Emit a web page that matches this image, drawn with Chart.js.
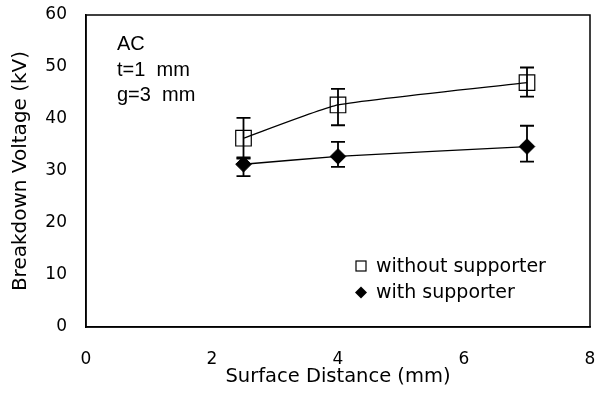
<!DOCTYPE html>
<html><head><meta charset="utf-8">
<script src="https://cdn.jsdelivr.net/npm/chart.js@4/dist/chart.umd.min.js"></script>
<style>html,body{margin:0;padding:0;background:#fff}#wrap{width:603px;height:398px}</style>
</head><body><div id="wrap"><canvas id="c" width="603" height="398"></canvas></div>
<script>
const distances = [2.5, 4, 7];
const withoutSupporter = [36.3, 42.7, 47.0];
const withoutErrLow = [32.4, 38.8, 44.3];
const withoutErrHigh = [40.2, 45.8, 49.9];
const withSupporter = [31.3, 32.8, 34.7];
const withErrLow = [29.0, 30.8, 31.8];
const withErrHigh = [32.6, 35.6, 38.7];
const xTicks = [0, 2, 4, 6, 8];
const yTicks = [0, 10, 20, 30, 40, 50, 60];
const annotationLines = ['AC', 't=1  mm', 'g=3  mm'];
const legendLabels = ['without supporter', 'with supporter'];

const FONT = '"DejaVu Sans", sans-serif';
const FONT2 = '"Liberation Sans", Arial, sans-serif';

const errorBars = {
  id: 'errorBars',
  afterDatasetsDraw(chart) {
    const ctx = chart.ctx, xs = chart.scales.x, ys = chart.scales.y;
    const sets = [[withErrLow, withErrHigh], [withoutErrLow, withoutErrHigh]];
    ctx.save();
    ctx.strokeStyle = '#000'; ctx.lineWidth = 1.8;
    sets.forEach(([lo, hi]) => {
      distances.forEach((d, i) => {
        const x = xs.getPixelForValue(d), y1 = ys.getPixelForValue(lo[i]), y2 = ys.getPixelForValue(hi[i]);
        ctx.beginPath();
        ctx.moveTo(x, y1); ctx.lineTo(x, y2);
        ctx.moveTo(x - 7, y1); ctx.lineTo(x + 7, y1);
        ctx.moveTo(x - 7, y2); ctx.lineTo(x + 7, y2);
        ctx.stroke();
      });
    });
    ctx.restore();
  }
};

const decorations = {
  id: 'decorations',
  afterDraw(chart) {
    const ctx = chart.ctx, a = chart.chartArea;
    ctx.save();
    ctx.fillStyle = '#000';
    ctx.font = '20px ' + FONT2;
    ctx.textBaseline = 'alphabetic';
    const base = [a.top + 35, a.top + 61, a.top + 86];
    annotationLines.forEach((t, i) => ctx.fillText(t, a.left + 31, base[i]));
    // legend
    const lx = a.left + 275, ly1 = a.top + 251, ly2 = a.top + 277.5;
    ctx.lineWidth = 1.2;
    ctx.strokeStyle = '#000';
    ctx.fillStyle = '#fff';
    ctx.fillRect(lx - 5, ly1 - 5, 10, 10);
    ctx.strokeRect(lx - 5, ly1 - 5, 10, 10);
    ctx.fillStyle = '#000';
    ctx.beginPath();
    ctx.moveTo(lx, ly2 - 6); ctx.lineTo(lx + 6, ly2); ctx.lineTo(lx, ly2 + 6); ctx.lineTo(lx - 6, ly2); ctx.closePath();
    ctx.fill();
    ctx.font = '19px ' + FONT;
    ctx.fillText(legendLabels[0], a.left + 290, a.top + 257);
    ctx.fillText(legendLabels[1], a.left + 290, a.top + 283);
    ctx.restore();
  }
};

function zeroPad(s) { s.paddingTop = 0; s.paddingBottom = 0; s.paddingLeft = 0; s.paddingRight = 0; }

new Chart(document.getElementById('c'), {
  type: 'scatter',
  data: {
    datasets: [
      {
        label: legendLabels[1],
        data: distances.map((d, i) => ({x: d, y: withSupporter[i]})),
        showLine: true, tension: 0.15, borderColor: '#000', borderWidth: 1.3,
        pointStyle: 'rectRot', pointRadius: 7.8, pointBackgroundColor: '#000', pointBorderColor: '#000', pointBorderWidth: 1
      },
      {
        label: legendLabels[0],
        data: distances.map((d, i) => ({x: d, y: withoutSupporter[i]})),
        showLine: true, tension: 0.15, borderColor: '#000', borderWidth: 1.3,
        pointStyle: 'rect', pointRadius: 11, pointBackgroundColor: 'rgba(255,255,255,0)', pointBorderColor: '#000', pointBorderWidth: 1.2
      }
    ]
  },
  options: {
    responsive: false, animation: false,
    layout: {padding: {left: 8, right: 13, top: 15, bottom: 6}},
    plugins: {legend: {display: false}, tooltip: {enabled: false}},
    scales: {
      x: {
        type: 'linear', min: 0, max: 8,
        afterBuildTicks: s => { s.ticks = xTicks.map(v => ({value: v})); },
        afterFit: s => { s.height = 65; zeroPad(s); },
        grid: {display: false, drawTicks: false},
        border: {display: true, color: '#000', width: 1.5},
        ticks: {color: '#000', font: {family: FONT, size: 17}, padding: 22, maxRotation: 0},
        title: {display: true, text: 'Surface Distance (mm)', color: '#000', font: {family: FONT, size: 19.5}, padding: {top: 0, bottom: 3}}
      },
      y: {
        min: 0, max: 60,
        afterBuildTicks: s => { s.ticks = yTicks.map(v => ({value: v})); },
        afterFit: s => { s.width = 78; zeroPad(s); },
        grid: {display: false, drawTicks: false},
        border: {display: true, color: '#000', width: 1.5},
        ticks: {color: '#000', font: {family: FONT, size: 17}, padding: 19},
        title: {display: true, text: 'Breakdown Voltage (kV)', color: '#000', font: {family: FONT, size: 20}, padding: {top: 1, bottom: 0}}
      }
    }
  },
  plugins: [errorBars, decorations, {
    id: 'frame',
    afterDraw(chart) {
      const ctx = chart.ctx, a = chart.chartArea;
      ctx.save(); ctx.strokeStyle = '#000'; ctx.lineWidth = 1.5;
      ctx.strokeRect(a.left, a.top, a.right - a.left, a.bottom - a.top);
      ctx.restore();
    }
  }]
});
</script></body></html>
